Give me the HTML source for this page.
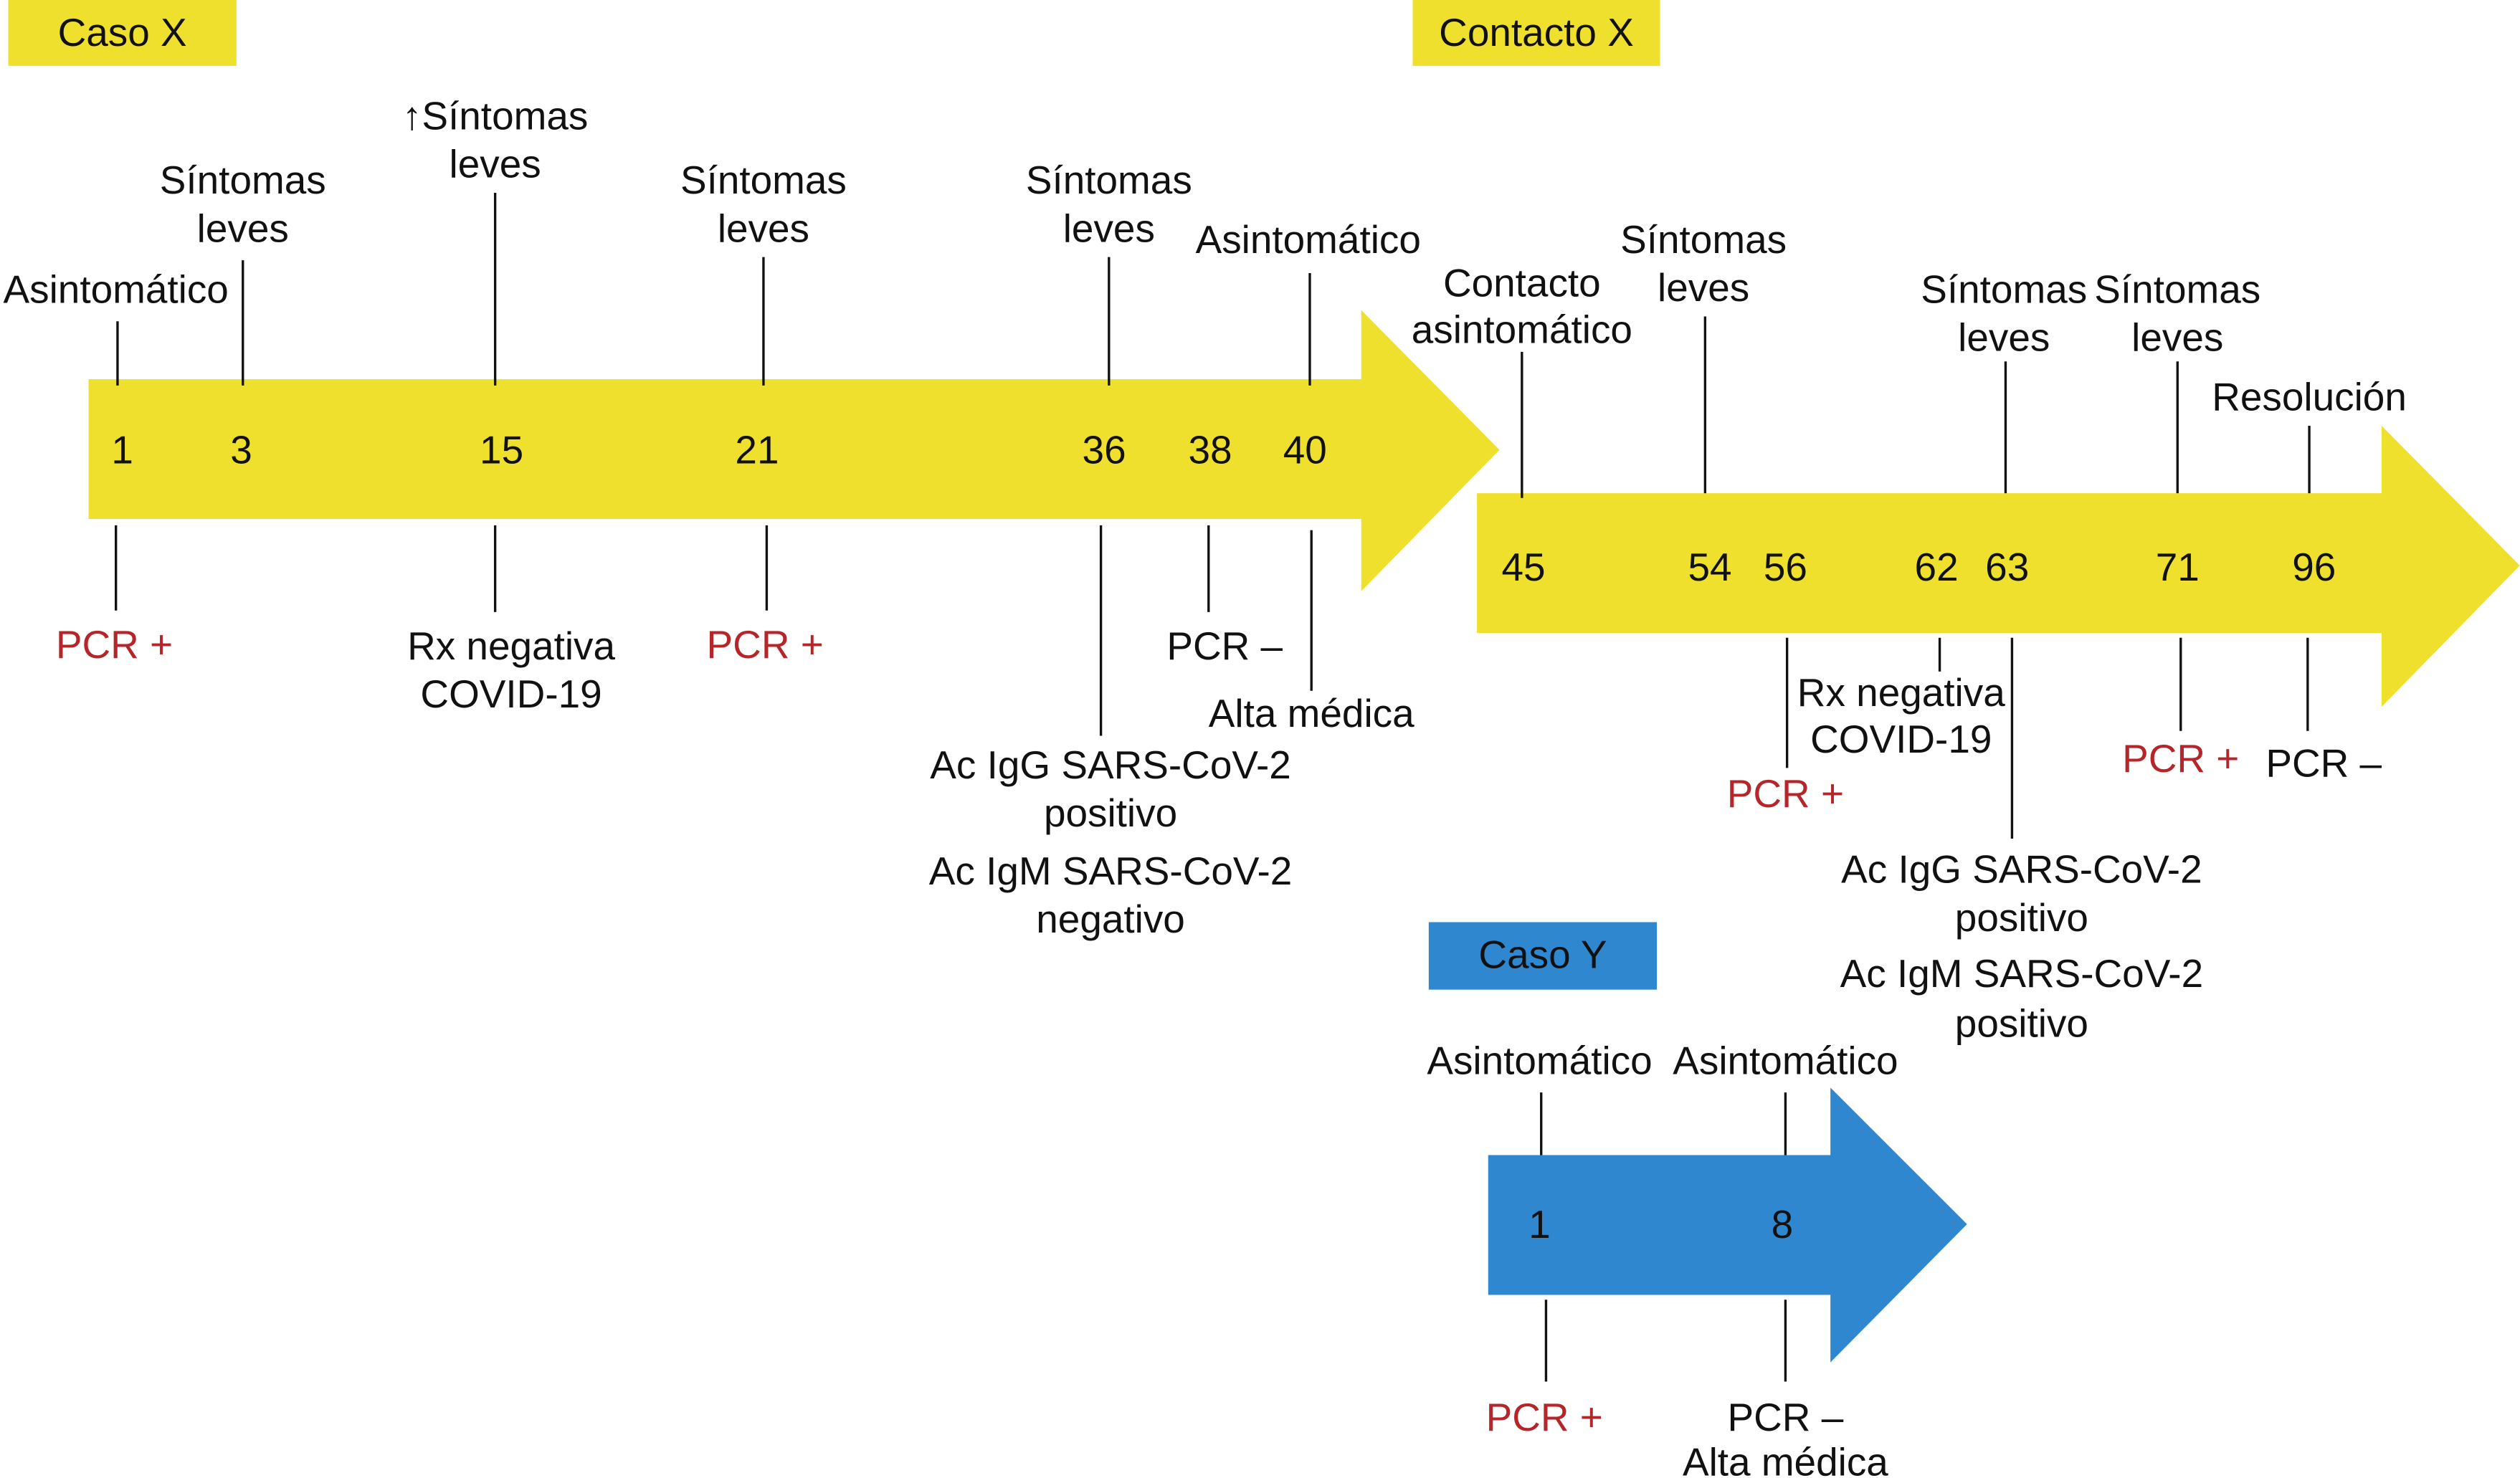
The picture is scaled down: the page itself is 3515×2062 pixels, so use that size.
<!DOCTYPE html>
<html><head><meta charset="utf-8"><style>
html,body{margin:0;padding:0;background:#fff;}
svg{display:block;}
text{font-family:"Liberation Sans",Arial,sans-serif;font-size:24.5px;fill:#111;text-anchor:middle;dominant-baseline:central;}
.r{fill:#b5262a;}
line{stroke:#111;stroke-width:1.5;}
</style></head><body>
<svg width="3515" height="2062" viewBox="0 0 1568 920" xmlns="http://www.w3.org/2000/svg">
<rect width="1568" height="920" fill="#fff"/>
<rect x="5" y="0" width="142" height="41" fill="#f0e02e"/>
<text x="76" y="20">Caso X</text>
<rect x="879" y="0" width="154" height="41" fill="#f0e02e"/>
<text x="956" y="20">Contacto X</text>
<rect x="889" y="574" width="142" height="42" fill="#2f87cf"/>
<text x="960" y="594">Caso Y</text>
<polygon points="55,236 847,236 847,193 933,280 847,368 847,323 55,323" fill="#f0e02e"/>
<polygon points="919,307 1482,307 1482,265 1568,352 1482,440 1482,394 919,394" fill="#f0e02e"/>
<polygon points="926,719 1139,719 1139,677 1224,762 1139,848 1139,806 926,806" fill="#2f87cf"/>
<text x="76" y="280">1</text><text x="150" y="280">3</text><text x="312" y="280">15</text><text x="471" y="280">21</text><text x="687" y="280">36</text><text x="753" y="280">38</text><text x="812" y="280">40</text>
<text x="948" y="353">45</text><text x="1064" y="353">54</text><text x="1111" y="353">56</text><text x="1205" y="353">62</text><text x="1249" y="353">63</text><text x="1355" y="353">71</text><text x="1440" y="353">96</text>
<text x="958" y="762">1</text><text x="1109" y="762">8</text>
<line x1="73" y1="200" x2="73" y2="240"/><text x="72" y="180">Asintomático</text>
<line x1="72" y1="327" x2="72" y2="380"/><text class="r" x="71" y="401">PCR +</text>
<line x1="151" y1="162" x2="151" y2="240"/><text x="151" y="112">Síntomas</text><text x="151" y="142">leves</text>
<line x1="308" y1="120" x2="308" y2="240"/><text x="308" y="72">↑Síntomas</text><text x="308" y="102">leves</text>
<line x1="308" y1="327" x2="308" y2="381"/><text x="318" y="402">Rx negativa</text><text x="318" y="432">COVID-19</text>
<line x1="475" y1="160" x2="475" y2="240"/><text x="475" y="112">Síntomas</text><text x="475" y="142">leves</text>
<line x1="477" y1="327" x2="477" y2="380"/><text class="r" x="476" y="401">PCR +</text>
<line x1="690" y1="160" x2="690" y2="240"/><text x="690" y="112">Síntomas</text><text x="690" y="142">leves</text>
<line x1="685" y1="327" x2="685" y2="458"/><text x="691" y="476">Ac IgG SARS-CoV-2</text><text x="691" y="506">positivo</text><text x="691" y="542">Ac IgM SARS-CoV-2</text><text x="691" y="572">negativo</text>
<line x1="752" y1="327" x2="752" y2="381"/><text x="762" y="402">PCR –</text>
<line x1="815" y1="170" x2="815" y2="240"/><text x="814" y="149">Asintomático</text>
<line x1="816" y1="330" x2="816" y2="430"/><text x="816" y="444">Alta médica</text>
<line x1="947" y1="219" x2="947" y2="310"/><text x="947" y="176">Contacto</text><text x="947" y="205">asintomático</text>
<line x1="1061" y1="197" x2="1061" y2="307"/><text x="1060" y="149">Síntomas</text><text x="1060" y="179">leves</text>
<line x1="1112" y1="397" x2="1112" y2="478"/><text class="r" x="1111" y="494">PCR +</text>
<line x1="1207" y1="397" x2="1207" y2="418"/><text x="1183" y="431">Rx negativa</text><text x="1183" y="460">COVID-19</text>
<line x1="1248" y1="225" x2="1248" y2="307"/><text x="1247" y="180">Síntomas</text><text x="1247" y="210">leves</text>
<line x1="1252" y1="397" x2="1252" y2="522"/><text x="1258" y="541">Ac IgG SARS-CoV-2</text><text x="1258" y="571">positivo</text><text x="1258" y="606">Ac IgM SARS-CoV-2</text><text x="1258" y="637">positivo</text>
<line x1="1355" y1="225" x2="1355" y2="307"/><text x="1355" y="180">Síntomas</text><text x="1355" y="210">leves</text>
<line x1="1357" y1="397" x2="1357" y2="455"/><text class="r" x="1357" y="472">PCR +</text>
<line x1="1437" y1="265" x2="1437" y2="307"/><text x="1437" y="247">Resolución</text>
<line x1="1436" y1="397" x2="1436" y2="455"/><text x="1446" y="475">PCR –</text>
<line x1="959" y1="680" x2="959" y2="719"/><text x="958" y="660">Asintomático</text>
<line x1="962" y1="809" x2="962" y2="860"/><text class="r" x="961" y="882">PCR +</text>
<line x1="1111" y1="680" x2="1111" y2="719"/><text x="1111" y="660">Asintomático</text>
<line x1="1111" y1="809" x2="1111" y2="860"/><text x="1111" y="882">PCR –</text><text x="1111" y="910">Alta médica</text>
</svg>
</body></html>
